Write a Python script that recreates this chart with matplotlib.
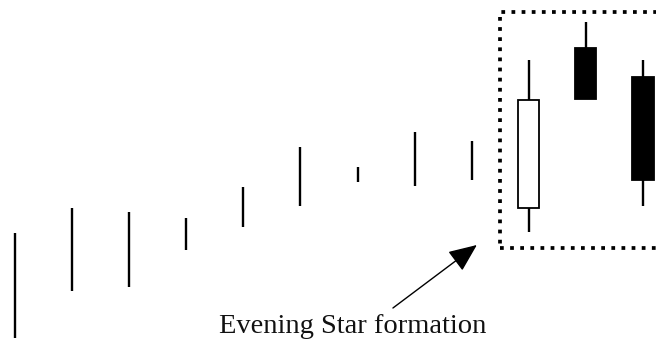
import matplotlib
matplotlib.use("Agg")
import matplotlib.pyplot as plt
from matplotlib.patches import Rectangle
import numpy as np

# Candle data (price units), left to right
highs = [108, 133, 129, 123, 154, 194, 174, 209, 200, 281, 319, 281]
lows = [3, 50, 54, 91, 114, 135, 159, 155, 161, 109, 242, 135]
# only the last three candles have a real body
opens = [None] * 9 + [133, 293, 264]
closes = [None] * 9 + [241, 242, 161]

label = 'Evening Star formation'

fig = plt.figure(figsize=(6.56, 3.41), dpi=100)
ax = fig.add_axes([0, 0, 1, 1])
ax.set_xlim(-0.263, 11.228)
ax.set_ylim(0, 341)
ax.axis('off')

x = np.arange(len(highs))
width = 0.37  # body width

for i in x:
    ax.vlines(i, lows[i], highs[i], color='black', lw=1.7, zorder=1)
    if opens[i] is not None:
        bottom = min(opens[i], closes[i])
        h = abs(closes[i] - opens[i])
        fc = 'white' if closes[i] > opens[i] else 'black'
        ax.add_patch(Rectangle((i - width/2, bottom), width, h,
                               facecolor=fc, edgecolor='black', lw=1.3, zorder=2))

# dotted box around the last three candles
box = Rectangle((8.49, 93), 3.2, 236, fill=False, edgecolor='black',
                lw=2.7, linestyle=(0, (1, 1.7)), zorder=3)
ax.add_patch(box)

ax.annotate('', xy=(8.09, 96), xytext=(6.62, 33),
            arrowprops=dict(arrowstyle='-|>,head_length=0.7,head_width=0.3',
                            mutation_scale=25, color='black', lw=1,
                            shrinkA=0, shrinkB=0))
ax.text(5.91, 8, label, family='Liberation Serif', fontsize=20.5,
        ha='center', va='baseline', color='#111111')

plt.savefig('out.png', dpi=100)
